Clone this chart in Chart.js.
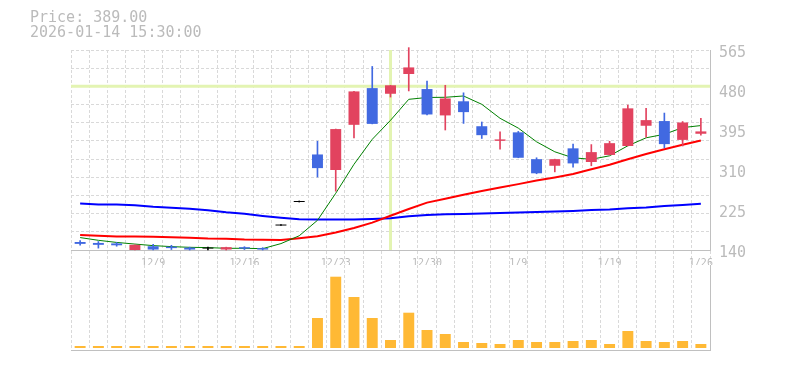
<!DOCTYPE html>
<html><head><meta charset="utf-8">
<script src="https://cdn.jsdelivr.net/npm/chart.js@4/dist/chart.umd.min.js"></script>
<style>
html,body{margin:0;padding:0;background:#fff;}
#wrap{position:relative;width:785px;height:370px;overflow:hidden;background:#fff;}
#info{position:absolute;left:30px;top:10px;font:15px 'DejaVu Sans Mono',monospace;color:#bbb;line-height:15px;white-space:pre;}
#pc{position:absolute;left:0;top:0;}
#vc{position:absolute;left:0;top:265px;}
</style></head><body>
<div id="wrap">
<canvas id="pc" width="785" height="265"></canvas>
<canvas id="vc" width="785" height="105"></canvas>
<div id="info"></div>
</div>
<script>
const infoLines = ['Price: 389.00', '2026-01-14 15:30:00'];
const dates = ['12/3','12/4','12/5','12/8','12/9','12/10','12/11','12/12','12/15','12/16','12/17','12/18','12/19','12/22','12/23','12/24','12/25','12/26','12/29','12/30','1/5','1/6','1/7','1/8','1/9','1/13','1/14','1/15','1/16','1/19','1/20','1/21','1/22','1/23','1/26'];
const tickDates = ['12/9','12/16','12/23','12/30','1/9','1/19','1/26'];
const priceTicks = [140, 225, 310, 395, 480, 565];
const opens  = [157,155,154,140,148,147,145,143,141,146,144,192,242,343,310,406,484,472,514,482,426,456,403,372,390,333,319,356,327,342,361,404,414,374,387];
const highs  = [160,158,156,151,152,150,146,146,146,147,145,192,242,371,397,477,530,490,570,499,490,474,412,391,392,336,333,365,364,371,448,441,431,413,420];
const lows   = [150,144,148,140,140,141,140,140,140,141,140,192,242,295,265,378,408,465,478,427,395,409,377,354,336,302,306,316,319,342,361,380,357,361,384];
const closes = [153,151,150,151,141,144,141,143,146,143,141,192,242,314,397,477,408,490,528,428,462,433,384,375,336,303,333,324,348,367,441,416,365,411,392];
const ma5  = [166.4,160.6,156.1,152.6,149.3,147.2,145.7,145.1,143.6,143.6,142.9,153.6,170.2,203.1,260.5,322.1,375.2,415.6,460.2,464.1,464.5,467.3,449.6,419.9,399.0,369.9,348.7,335.9,332.7,340.2,361.4,378.4,385.9,400.1,404.4];
const ma25 = [171.9,170.2,168.5,168.5,168.0,167.0,165.9,164.2,163.8,162.1,161.7,161.3,164.9,169.1,177.0,186.7,198.2,212.7,227.1,240.7,248.8,257.3,265.4,272.6,280.0,287.5,294.1,301.5,311.5,321.1,332.7,344.0,354.0,363.6,372.7];
const ma75 = [238.6,236.5,236.5,235.0,231.8,229.7,227.6,224.4,220.1,216.9,212.3,208.4,205.2,204.6,204.6,204.6,206.1,207.4,211.6,214.4,215.9,216.5,217.4,218.6,219.5,220.8,221.6,222.9,225.0,225.9,228.6,230.1,233.5,235.6,238.2];
const volumes = [20,20,20,20,20,20,20,20,20,20,20,20,20,300,713,510,300,80,353,180,140,60,50,40,80,60,60,70,80,40,170,70,60,70,40];
const crossIndex = 17;
const crossPrice = 488;

document.getElementById('info').textContent = infoLines.join('\n');

const UP = '#e2435f', DOWN = '#4169e1', EVEN = '#000000';
const GRID = '#d9d9d9', AXIS = '#c0c0c0', TXT = '#bbbbbb';
const DASH = [3, 2];
const candleColor = i => closes[i] > opens[i] ? UP : (closes[i] < opens[i] ? DOWN : EVEN);

const crosshair = {
  id: 'crosshair',
  beforeDatasetsDraw(chart) {
    const {ctx, chartArea: a, scales: {x, y}} = chart;
    const px = x.getPixelForValue(crossIndex), py = y.getPixelForValue(crossPrice);
    ctx.save();
    ctx.strokeStyle = '#e3f4b2';
    ctx.lineWidth = 3;
    ctx.beginPath();
    ctx.moveTo(a.left, py); ctx.lineTo(a.right, py);
    ctx.moveTo(px, a.top); ctx.lineTo(px, a.bottom);
    ctx.stroke();
    ctx.restore();
  }
};

function noPad(s) { s.paddingTop = 0; s.paddingBottom = 0; s.paddingLeft = 0; s.paddingRight = 0; }

new Chart(document.getElementById('pc'), {
  type: 'bar',
  data: {
    labels: dates,
    datasets: [
      {type:'bar', label:'body', data: dates.map((d,i)=>[opens[i], closes[i]]), yAxisID:'y',
       backgroundColor: c => candleColor(c.dataIndex), borderWidth:0, barPercentage:0.6, categoryPercentage:1,
       minBarLength:1, grouped:false, order:1},
      {type:'bar', label:'wick', data: dates.map((d,i)=>[lows[i], highs[i]]), yAxisID:'y',
       backgroundColor: c => candleColor(c.dataIndex), borderWidth:0, barThickness:1,
       minBarLength:1, grouped:false, order:2, clip:false},
      {type:'line', label:'MA5', data: ma5, yAxisID:'y', borderColor:'#008000', borderWidth:1, pointRadius:0, tension:0, order:3},
      {type:'line', label:'MA25', data: ma25, yAxisID:'y', borderColor:'#ff0000', borderWidth:2, pointRadius:0, tension:0, order:4},
      {type:'line', label:'MA75', data: ma75, yAxisID:'y', borderColor:'#0000ff', borderWidth:2, pointRadius:0, tension:0, order:5}
    ]
  },
  options: {
    responsive:false, animation:false, devicePixelRatio:1,
    layout:{padding:{left:71, top:50, right:0, bottom:0}},
    plugins:{legend:{display:false}, tooltip:{enabled:false}},
    events: [],
    scales: {
      x: {
        offset:true,
        grid:{offset:true, color:GRID, lineWidth:1, drawTicks:true, tickLength:15, tickColor:GRID, tickBorderDash:DASH},
        border:{display:true, color:AXIS, width:1, dash:DASH},
        ticks:{autoSkip:false, maxRotation:0, minRotation:0, padding:-8, color:TXT,
               font:{family:'DejaVu Sans Mono', size:10},
               callback:(v,i)=> tickDates.includes(dates[i]) ? dates[i] : ''},
        afterFit(s){ s.height = 15; noPad(s); }
      },
      yg: {
        position:'left', min:0, max:11,
        ticks:{stepSize:1, display:false},
        grid:{color:GRID, lineWidth:1, drawTicks:false},
        border:{display:false, dash:DASH},
        afterFit(s){ s.width = 0; noPad(s); }
      },
      y: {
        position:'right', min:140, max:565,
        afterBuildTicks(s){ s.ticks = priceTicks.map(v=>({value:v})); },
        ticks:{padding:9, color:TXT, font:{family:'DejaVu Sans Mono', size:15}, labelOffset:3},
        grid:{display:false, drawTicks:false},
        border:{display:true, color:AXIS, width:1},
        afterFit(s){ s.width = 75; noPad(s); }
      }
    }
  },
  plugins:[crosshair]
});

new Chart(document.getElementById('vc'), {
  type:'bar',
  data:{
    labels: dates,
    datasets:[{label:'Volume', data: volumes, backgroundColor:'#ffb935', borderWidth:0, barPercentage:0.6, categoryPercentage:1}]
  },
  options:{
    responsive:false, animation:false, devicePixelRatio:1,
    layout:{padding:{left:71, top:0, right:0, bottom:20}},
    plugins:{legend:{display:false}, tooltip:{enabled:false}},
    events: [],
    scales:{
      x:{
        offset:true,
        grid:{offset:true, color:GRID, lineWidth:1, drawTicks:false},
        border:{display:true, color:AXIS, width:1, dash:DASH},
        ticks:{display:false},
        afterFit(s){ s.height = 0; noPad(s); }
      },
      y:{
        position:'right', min:-20, max:830,
        ticks:{display:false},
        grid:{display:false, drawTicks:false},
        border:{display:true, color:AXIS, width:1},
        afterFit(s){ s.width = 75; noPad(s); }
      }
    }
  }
});
</script>
</body></html>
